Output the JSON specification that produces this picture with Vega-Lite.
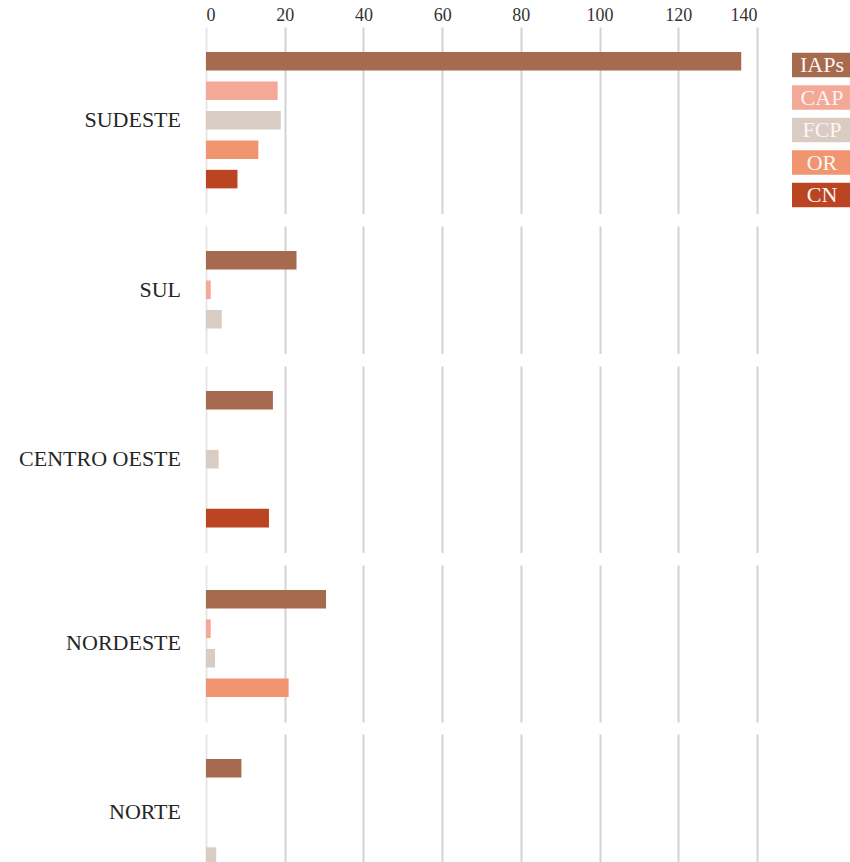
{
  "$schema": "https://vega.github.io/schema/vega-lite/v6.json",
  "padding": {"left": 19, "top": 6, "right": 0, "bottom": 0},
  "background": "white",
  "data": {
    "values": [
      {"regiao": "SUDESTE", "serie": "IAPs", "valor": 136},
      {"regiao": "SUDESTE", "serie": "CAP", "valor": 18.2},
      {"regiao": "SUDESTE", "serie": "FCP", "valor": 19},
      {"regiao": "SUDESTE", "serie": "OR", "valor": 13.3},
      {"regiao": "SUDESTE", "serie": "CN", "valor": 8},
      {"regiao": "SUL", "serie": "IAPs", "valor": 23},
      {"regiao": "SUL", "serie": "CAP", "valor": 1.2},
      {"regiao": "SUL", "serie": "FCP", "valor": 4},
      {"regiao": "CENTRO OESTE", "serie": "IAPs", "valor": 17},
      {"regiao": "CENTRO OESTE", "serie": "CAP", "valor": 0},
      {"regiao": "CENTRO OESTE", "serie": "FCP", "valor": 3.2},
      {"regiao": "CENTRO OESTE", "serie": "OR", "valor": 0},
      {"regiao": "CENTRO OESTE", "serie": "CN", "valor": 16},
      {"regiao": "NORDESTE", "serie": "IAPs", "valor": 30.5},
      {"regiao": "NORDESTE", "serie": "CAP", "valor": 1.2},
      {"regiao": "NORDESTE", "serie": "FCP", "valor": 2.3},
      {"regiao": "NORDESTE", "serie": "OR", "valor": 21},
      {"regiao": "NORTE", "serie": "IAPs", "valor": 9},
      {"regiao": "NORTE", "serie": "CAP", "valor": 0},
      {"regiao": "NORTE", "serie": "OR", "valor": 0},
      {"regiao": "NORTE", "serie": "FCP", "valor": 2.6}
    ]
  },
  "facet": {
    "row": {
      "field": "regiao",
      "type": "nominal",
      "sort": ["SUDESTE", "SUL", "CENTRO OESTE", "NORDESTE", "NORTE"],
      "title": null,
      "header": {
        "labelAngle": 0,
        "labelOrient": "left",
        "labelAlign": "left",
        "labelFont": "Liberation Serif",
        "labelFontSize": 22,
        "labelColor": "#262626",
        "labelPadding": 25
      }
    }
  },
  "spacing": 12,
  "resolve": {"scale": {"y": "independent"}},
  "spec": {
    "width": 551,
    "height": {"step": 29.45},
    "mark": {"type": "bar"},
    "encoding": {
      "y": {
        "field": "serie",
        "type": "nominal",
        "sort": null,
        "axis": null,
        "scale": {"paddingInner": 0.37, "paddingOuter": 0.85}
      },
      "x": {
        "field": "valor",
        "type": "quantitative",
        "scale": {"domain": [0, 140], "nice": false},
        "axis": {
          "orient": "top",
          "title": null,
          "values": [0, 20, 40, 60, 80, 100, 120, 140],
          "grid": true,
          "gridColor": {"condition": {"test": "datum.value === 0", "value": "#e6e6e6"}, "value": "#d2d2d2"},
          "gridWidth": 2,
          "ticks": false,
          "domain": false,
          "labelFont": "Liberation Serif",
          "labelFontSize": 18,
          "labelColor": "#333333",
          "labelPadding": 3
        }
      },
      "color": {
        "field": "serie",
        "type": "nominal",
        "scale": {
          "domain": ["IAPs", "CAP", "FCP", "OR", "CN"],
          "range": ["#a66a4f", "#f4a898", "#d9ccc3", "#f0956f", "#bb4522"]
        },
        "legend": {
          "title": null,
          "orient": "none",
          "legendX": 586,
          "legendY": 23,
          "symbolType": "M-1,-0.82H3V0.82H-1Z",
          "symbolSize": 900,
          "symbolStrokeWidth": 0,
          "symbolOpacity": 1,
          "labelAlign": "center",
          "labelBaseline": "middle",
          "labelOffset": 0,
          "labelColor": "#fdf6f2",
          "labelFont": "Liberation Serif",
          "labelFontSize": 22,
          "rowPadding": 4.5,
          "padding": 0
        }
      }
    }
  },
  "config": {"view": {"stroke": null}, "font": "Liberation Serif"}
}
